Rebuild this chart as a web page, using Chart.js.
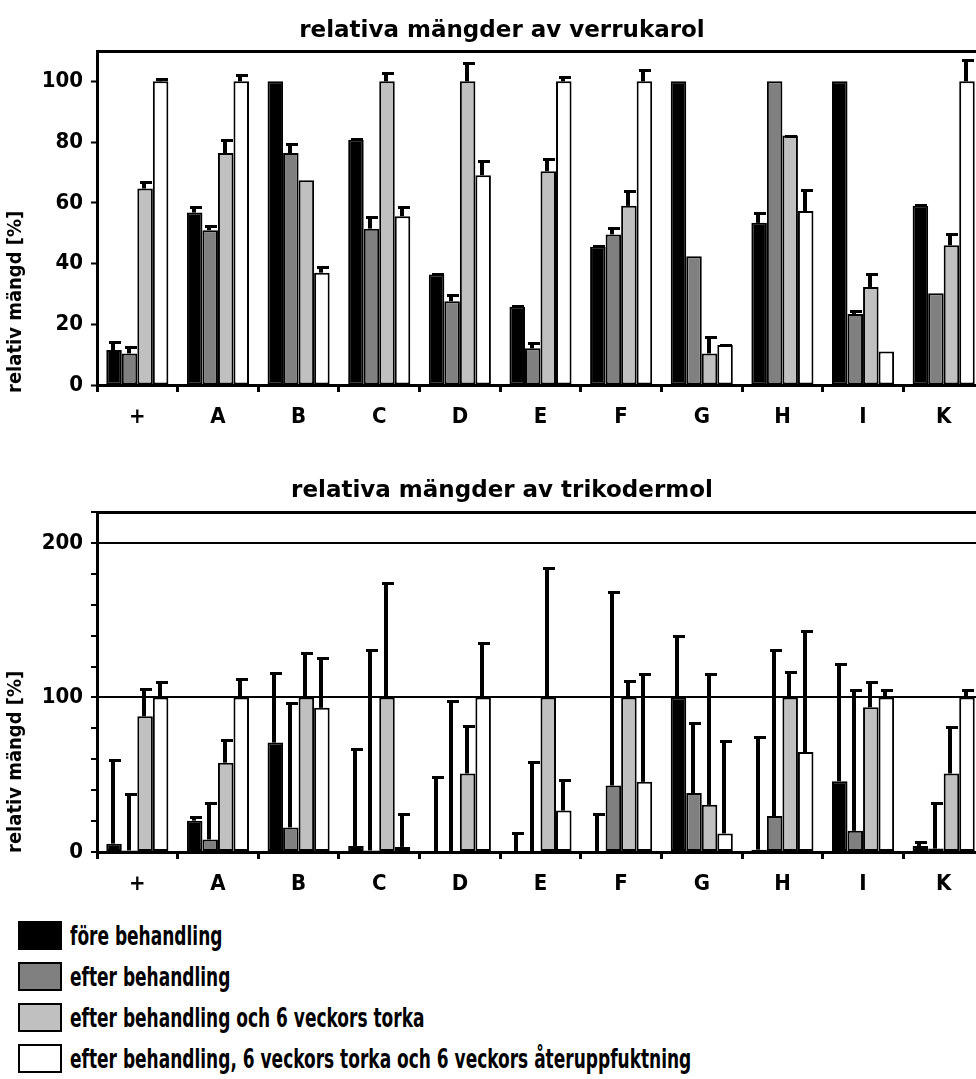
<!DOCTYPE html>
<html>
<head>
<meta charset="utf-8">
<script src="https://cdn.jsdelivr.net/npm/chart.js@4.4.0/dist/chart.umd.min.js"></script>
<style>
  html, body { margin: 0; padding: 0; background: #fff; overflow: hidden; }
  #wrap { position: relative; width: 976px; height: 1079px; overflow: hidden; }
  canvas { position: absolute; left: 0; }
  #c1 { top: 0; }
  #c2 { top: 440px; }
  #legend { position: absolute; left: 18px; top: 915px;
            font: bold 27px 'Liberation Sans Narrow', 'DejaVu Sans Condensed', sans-serif; }
  .row { display: flex; align-items: center; height: 41px; white-space: nowrap; }
  .sw { width: 40px; height: 25px; border: 2px solid #000; margin-right: 8px; flex: none; }
  .tx { display: inline-block; transform: scaleX(0.70); transform-origin: left center; }
</style>
</head>
<body>
<div id="wrap">
  <canvas id="c1" width="984" height="440"></canvas>
  <canvas id="c2" width="984" height="467"></canvas>
  <div id="legend"></div>
</div>
<script>
// ---- data ----
const categories = ['+', 'A', 'B', 'C', 'D', 'E', 'F', 'G', 'H', 'I', 'K'];
const seriesLabels = [
  'före behandling',
  'efter behandling',
  'efter behandling och 6 veckors torka',
  'efter behandling, 6 veckors torka och 6 veckors återuppfuktning'
];
const seriesColors = ['#000000', '#808080', '#c0c0c0', '#ffffff'];

// verrukarol (%)
const verrFore     = [11.5, 56.8, 100, 80.8, 36.4, 25.8, 45.5, 100, 53.4, 100, 59];
const verrForeErr  = [3, 2.2, 0, 0.6, 0.6, 0.4, 0.5, 0, 3.6, 0, 0.5];
const verrEfter    = [10.4, 51, 76.4, 51.5, 27.6, 12.1, 49.6, 42.4, 100, 23.4, 30.2];
const verrEfterErr = [2.4, 1.6, 3.3, 4.1, 2.3, 2.2, 2.3, 0, 0, 1.3, 0];
const verrTorka    = [64.7, 76.4, 67.4, 100, 100, 70.4, 59, 10.4, 82.2, 32.3, 46];
const verrTorkaErr = [2.4, 4.5, 0, 3, 6.4, 4.2, 5.1, 5.7, 0.3, 4.7, 3.9];
const verrAter     = [100, 100, 37, 55.6, 69.1, 100, 100, 13.2, 57.3, 11, 100];
const verrAterErr  = [1.2, 2.5, 2.3, 3.4, 4.9, 1.7, 4, 0.3, 7.4, 0, 7.4];

// trikodermol (%)
const trikFore     = [5.4, 20.3, 70.8, 3.9, 0.5, 0.3, 0.5, 100, 1.5, 45.8, 3.9];
const trikForeErr  = [54.5, 3.2, 45.8, 63.2, 49, 12.4, 25, 40.5, 73.3, 76.2, 3.3];
const trikEfter    = [1, 8.1, 15.9, 1, 0.5, 0.5, 43, 38.2, 23.3, 13.7, 2.2];
const trikEfterErr = [37.2, 24.2, 81.1, 130.4, 98, 58.3, 125.9, 46.1, 108.1, 92, 30.1];
const trikTorka    = [87.8, 57.8, 100, 100, 50.8, 100, 100, 30.5, 100, 93.7, 50.8];
const trikTorkaErr = [18.3, 15.2, 29.2, 75, 31.6, 84.1, 11.6, 85.6, 17.3, 16.8, 30.9];
const trikAter     = [100, 100, 93.3, 3.3, 100, 26.8, 45.4, 12, 64.7, 100, 100];
const trikAterErr  = [10.7, 12.9, 33.1, 22.2, 35.7, 20.5, 70.7, 60.5, 79.1, 5.7, 5.7];

const verrTicks = [0, 20, 40, 60, 80, 100];
const trikTicks = [0, 20, 40, 60, 80, 100, 120, 140, 160, 180, 200, 220];
const trikTickLabels = [0, 100, 200];
const trikGridLines = [100, 200];

// ---- fonts ----
const NARROW = "'Liberation Sans Narrow', 'DejaVu Sans Condensed', sans-serif";
const WIDE = "'DejaVu Sans', sans-serif";

// ---- plugins ----
const errorBars = {
  id: 'errorBars',
  afterDatasetsDraw(chart) {
    const { ctx } = chart, ys = chart.scales.y;
    ctx.save();
    ctx.fillStyle = '#000';
    chart.data.datasets.forEach((ds, i) => {
      chart.getDatasetMeta(i).data.forEach((bar, j) => {
        const e = ds.errPlus[j];
        if (!e) return;
        const top = Math.round(ys.getPixelForValue(ds.data[j] + e));
        const x = Math.round(bar.x);
        ctx.fillRect(x - 3, top, 4, bar.y - top);
        ctx.fillRect(x - 5, top, 12, 3);
      });
    });
    ctx.restore();
  }
};

const decor = {
  id: 'decor',
  afterDraw(chart, args, o) {
    const { ctx, chartArea: a } = chart;
    ctx.save();
    // top border of plot
    ctx.fillStyle = '#000';
    ctx.fillRect(a.left - 1, a.top - 1, a.right - a.left + 2, 3);
    // chart title
    ctx.font = 'bold 23px ' + WIDE;
    ctx.textAlign = 'center';
    ctx.textBaseline = 'alphabetic';
    ctx.fillText(o.title, 502, o.titleY);
    // y axis title
    ctx.font = 'bold 20px ' + NARROW;
    ctx.translate(16, a.bottom + o.yTitleOff);
    ctx.rotate(-Math.PI / 2);
    ctx.textAlign = 'left';
    ctx.textBaseline = 'middle';
    ctx.fillText('relativ mängd [%]', 0, 0);
    ctx.restore();
  }
};

function makeDatasets(vals, errs) {
  return vals.map((v, i) => ({
    label: seriesLabels[i],
    data: v,
    errPlus: errs[i],
    backgroundColor: seriesColors[i],
    borderColor: '#000',
    borderWidth: 2,
    borderSkipped: false,
    categoryPercentage: 0.77,
    barPercentage: 1
  }));
}

function makeChart(id, datasets, yOpts, decorOpts, padTop) {
  return new Chart(document.getElementById(id), {
    type: 'bar',
    data: { labels: categories, datasets },
    options: {
      responsive: false,
      animation: false,
      devicePixelRatio: 1,
      layout: { padding: { top: padTop, left: 0, right: 0, bottom: 0 } },
      plugins: { legend: { display: false }, tooltip: { enabled: false }, decor: decorOpts },
      scales: {
        x: {
          afterFit: s => { s.height = 55; },
          border: { color: '#000', width: 3 },
          grid: { offset: true, drawOnChartArea: false, tickLength: 7, tickColor: '#000', tickWidth: 3 },
          ticks: { font: { family: NARROW, size: 22, weight: 'bold' }, color: '#000', padding: 12,
                   maxRotation: 0, autoSkip: false }
        },
        y: Object.assign({
          min: 0,
          afterFit: s => { s.width = 97; },
          border: { color: '#000', width: 3 },
          ticks: { font: { family: NARROW, size: 22, weight: 'bold' }, color: '#000', padding: 8 }
        }, yOpts)
      }
    },
    plugins: [errorBars, decor]
  });
}

makeChart('c1',
  makeDatasets([verrFore, verrEfter, verrTorka, verrAter],
               [verrForeErr, verrEfterErr, verrTorkaErr, verrAterErr]),
  {
    max: 110,
    afterBuildTicks: s => { s.ticks = verrTicks.map(v => ({ value: v })); },
    grid: { drawOnChartArea: false, tickLength: 6, tickColor: '#000', tickWidth: 2 }
  },
  { title: 'relativa mängder av verrukarol', titleY: 37, yTitleOff: 8 },
  51);

makeChart('c2',
  makeDatasets([trikFore, trikEfter, trikTorka, trikAter],
               [trikForeErr, trikEfterErr, trikTorkaErr, trikAterErr]),
  {
    max: 220,
    afterBuildTicks: s => { s.ticks = trikTicks.map(v => ({ value: v })); },
    grid: {
      color: c => trikGridLines.includes(c.tick && c.tick.value) ? '#000' : 'rgba(0,0,0,0)',
      lineWidth: 2, tickLength: 6, tickColor: '#000', tickWidth: 2
    },
    ticks: {
      font: { family: NARROW, size: 22, weight: 'bold' }, color: '#000', padding: 8,
      callback: v => trikTickLabels.includes(v) ? String(v) : ''
    }
  },
  { title: 'relativa mängder av trikodermol', titleY: 57, yTitleOff: 1 },
  72);

// ---- legend ----
const legend = document.getElementById('legend');
seriesLabels.forEach((lab, i) => {
  const row = document.createElement('div');
  row.className = 'row';
  const sw = document.createElement('span');
  sw.className = 'sw';
  sw.style.background = seriesColors[i];
  const tx = document.createElement('span');
  tx.className = 'tx';
  tx.textContent = lab;
  row.appendChild(sw);
  row.appendChild(tx);
  legend.appendChild(row);
});
</script>
</body>
</html>
